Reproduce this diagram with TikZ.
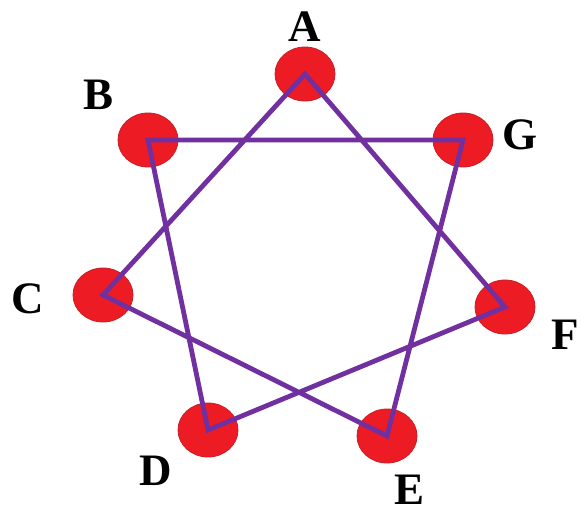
\documentclass[tikz,border=0pt]{standalone}
\usepackage{fontspec}
\setmainfont{Liberation Serif}
\usetikzlibrary{shapes.geometric}
\definecolor{dotred}{RGB}{237,28,36}
\definecolor{dotedge}{RGB}{200,30,40}
\definecolor{starpurple}{RGB}{112,48,160}
\tikzset{
  dot/.style={ellipse, fill=dotred, draw=dotedge, line width=0.8pt, minimum width=60pt, minimum height=54pt, inner sep=0pt},
  lbl/.style={font=\fontsize{45}{45}\selectfont\bfseries, inner sep=0pt},
  starline/.style={draw=starpurple, line width=4.8pt, line join=miter}
}
\begin{document}
\begin{tikzpicture}[x=1pt,y=-1pt]
\useasboundingbox[fill=white] (0,0) rectangle (581,515);
\node[dot] (A) at (305,74) {};
\node[dot] (B) at (148,140) {};
\node[dot] (C) at (103,295) {};
\node[dot] (D) at (208,430) {};
\node[dot] (E) at (387,436) {};
\node[dot] (F) at (505,307) {};
\node[dot] (G) at (463,140) {};
\draw[starline] (A.center) -- (C.center) -- (E.center) -- (G.center) -- (B.center) -- (D.center) -- (F.center) -- cycle;
\node[lbl] (LA) at (305,27) {A};
\node[lbl] (LB) at (99,95) {B};
\node[lbl] (LC) at (28,299) {C};
\node[lbl] (LD) at (156,471) {D};
\node[lbl] (LE) at (410,490) {E};
\node[lbl] (LF) at (565,335) {F};
\node[lbl] (LG) at (520,135) {G};
\end{tikzpicture}
\end{document}
